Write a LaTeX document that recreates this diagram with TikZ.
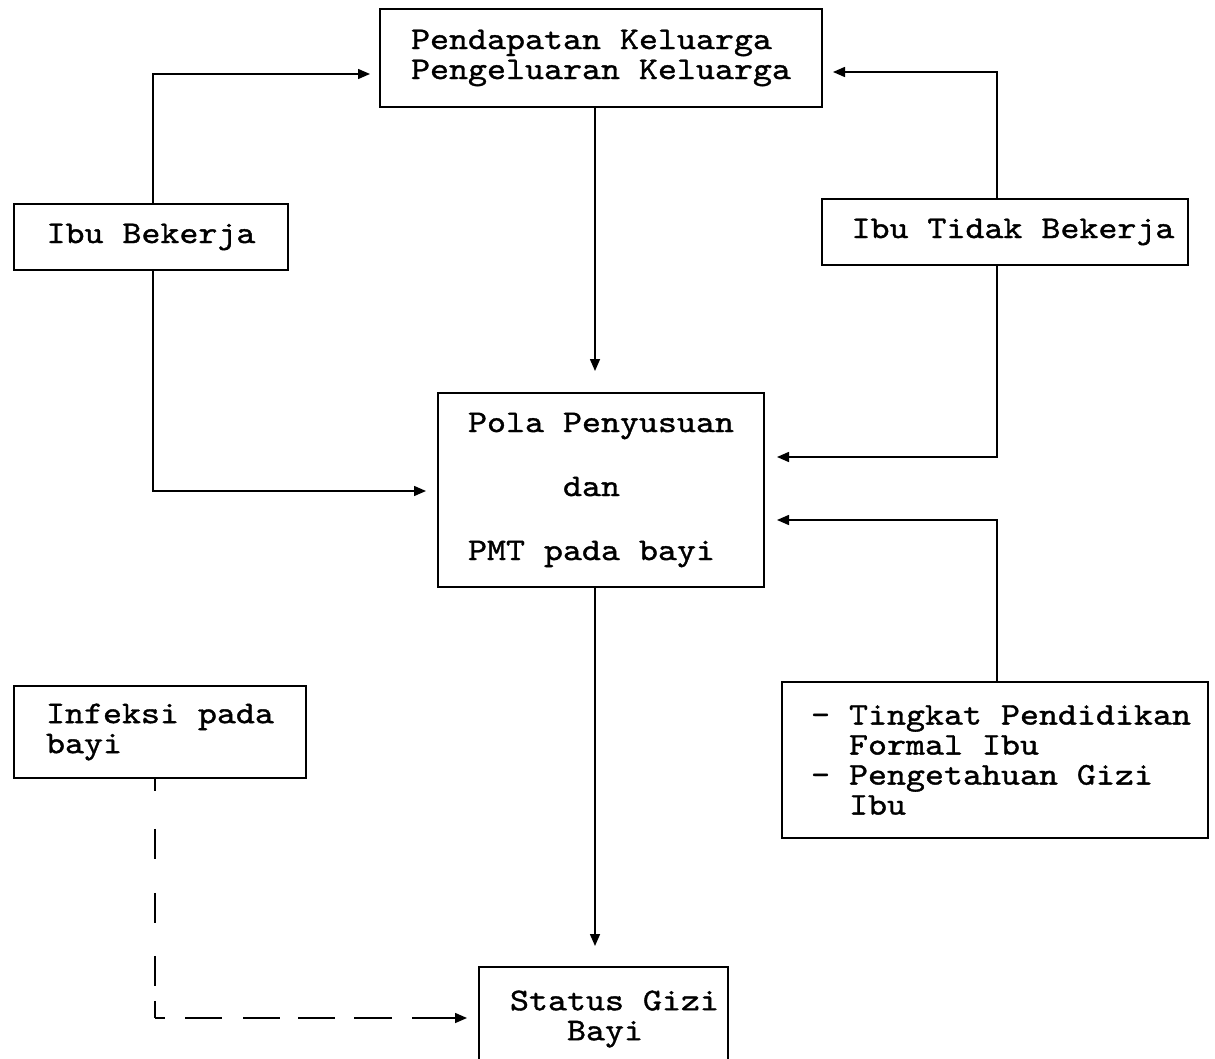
\documentclass[tikz,border=0pt]{standalone}
\usepackage{fontspec}
\setmonofont{lmmono10-regular.otf}[FakeStretch=1.145,FakeBold=1.2]
\usetikzlibrary{arrows.meta}
\begin{document}
\begin{tikzpicture}[x=1pt,y=-1pt,
  box/.style={draw,line width=1.6pt,inner sep=0pt,font=\ttfamily\fontsize{31.6}{30}\selectfont},
  conn/.style={line width=1.5pt},
  tip/.style={-{Triangle[length=12pt,width=10pt]}},
  arr/.style={conn,tip}]
\useasboundingbox (0,0) rectangle (1215,1059);
% boxes
\node[box,minimum width=442pt,minimum height=98pt,align=left] (top) at (601,58)
  {Pendapatan Keluarga\\Pengeluaran Keluarga};
\node[box,minimum width=274pt,minimum height=66pt] (ib) at (151,237) {Ibu Bekerja};
\node[box,minimum width=366pt,minimum height=66pt] (itb) at (1005,232) {\hspace*{16pt}Ibu Tidak Bekerja};
\node[box,minimum width=326pt,minimum height=194pt,align=left] (pola) at (601,490)
  {Pola Penyusuan\\[34pt]\phantom{xxxxx}dan\\[34pt]PMT pada bayi};
\node[box,minimum width=292pt,minimum height=92pt,align=left] (inf) at (160,732)
  {Infeksi pada\\bayi\hspace*{150pt}};
\node[box,minimum width=426pt,minimum height=156pt,align=left] (tpf) at (995,760)
  {\hspace*{12pt}- Tingkat Pendidikan\\\hspace*{12pt}\ \ Formal Ibu\\\hspace*{12pt}- Pengetahuan Gizi\\\hspace*{12pt}\ \ Ibu};
\node[box,minimum width=249pt,minimum height=104pt,align=left] (sg) at (603.5,1019)
  {\hspace*{22pt}\raisebox{4pt}{Status Gizi}\\\hspace*{22pt}\raisebox{4pt}{\phantom{xxx}Bayi}};
% arrow end points
\coordinate (a1) at (370,74);
\coordinate (a2) at (426,491);
\coordinate (a3) at (595,371);
\coordinate (a4) at (833,72);
\coordinate (a5) at (777,457);
\coordinate (a6) at (777,520);
\coordinate (a7) at (595,946);
\coordinate (a8) at (467,1018);
\coordinate (c8) at (155,1018);
% connectors
\draw[arr] (ib.north -| 153,0) |- (a1);
\draw[arr] (ib.south -| 153,0) |- (a2);
\draw[arr] (top.south -| a3) -- (a3);
\draw[arr] (itb.north -| 997,0) |- (a4);
\draw[arr] (itb.south -| 997,0) |- (a5);
\draw[arr] (tpf.north -| 997,0) |- (a6);
\draw[arr] (pola.south -| a7) -- (a7);
\draw[conn,dash pattern=on 12pt off 38pt on 30pt off 34pt on 30pt off 33pt on 30pt off 15pt on 30pt] (inf.south -| c8) -- (c8);
\draw[conn,tip,dash pattern=on 10pt off 20pt on 37pt off 21pt on 37pt off 18pt on 37pt off 19pt on 38pt off 20pt on 60pt] (c8) -- (a8);
\end{tikzpicture}
\end{document}
